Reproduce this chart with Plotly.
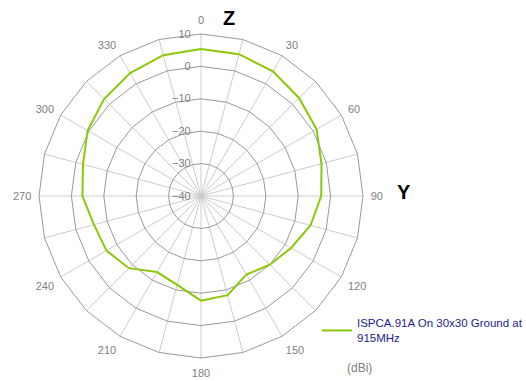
import plotly.graph_objects as go

# Radiation pattern, Z-Y plane, gain in dBi every 15 degrees
angles = [0, 15, 30, 45, 60, 75, 90, 105, 120, 135, 150, 165,
          180, 195, 210, 225, 240, 255, 270, 285, 300, 315, 330, 345]
gain_dbi = [5.4, 5.3, 4.4, 2.8, 1.2, -1.5, -2.9, -5.0, -7.9, -10.0, -12.0, -8.3,
            -7.7, -11.6, -12.9, -8.5, -6.3, -5.8, -3.4, -2.3, 0.4, 2.3, 3.8, 5.0]
series_name = "ISPCA.91A On 30x30 Ground at<br>915MHz"
radial_ticks = [-40, -30, -20, -10, 0, 10]

categories = [str(a) for a in angles]
tick_text = [str(a) if a % 30 == 0 else "" for a in angles]

# close the loop
theta = categories + [categories[0]]
r = gain_dbi + [gain_dbi[0]]

W, H = 526, 381
cx, cy, rad = 201, 196, 162

fig = go.Figure()
fig.add_trace(go.Scatterpolar(
    r=r, theta=theta, mode="lines", name=series_name,
    line=dict(color="#8cc80a", width=2),
))

font_family = "Arial, Liberation Sans, sans-serif"
fig.update_layout(
    width=W, height=H,
    margin=dict(l=0, r=0, t=0, b=0, autoexpand=False),
    paper_bgcolor="white",
    font=dict(family=font_family, size=11, color="#808080"),
    polar=dict(
        domain=dict(x=[(cx - rad) / W, (cx + rad) / W],
                    y=[1 - (cy + rad) / H, 1 - (cy - rad) / H]),
        gridshape="linear",
        bgcolor="white",
        angularaxis=dict(
            type="category", categoryarray=categories,
            rotation=90, direction="clockwise",
            tickmode="array", tickvals=categories, ticktext=tick_text,
            ticks="outside", ticklen=5, tickcolor="rgba(0,0,0,0)",
            showline=True, linecolor="#999999", linewidth=1,
            gridcolor="#cccccc", gridwidth=1,
            tickfont=dict(size=11, color="#808080"),
        ),
        radialaxis=dict(
            range=[-40, 10], tickvals=radial_ticks, angle=90, tickangle=90,
            side="counterclockwise",
            ticks="outside", ticklen=6, tickcolor="rgba(0,0,0,0)",
            showline=False, gridcolor="#999999", gridwidth=1,
            tickfont=dict(size=11, color="#808080"),
        ),
    ),
    showlegend=True,
    legend=dict(x=317 / W, y=1 - 309 / H, xanchor="left", yanchor="top",
                font=dict(size=11.5, color="#1c1c8c", family=font_family),
                itemwidth=30, bgcolor="rgba(0,0,0,0)"),
    annotations=[
        dict(text="<b>Z</b>", x=229 / W, y=1 - 18 / H, xref="paper", yref="paper",
             xanchor="center", yanchor="middle",
             showarrow=False, font=dict(size=20, color="black")),
        dict(text="<b>Y</b>", x=404 / W, y=1 - 192 / H, xref="paper", yref="paper",
             xanchor="center", yanchor="middle",
             showarrow=False, font=dict(size=20, color="black")),
        dict(text="(dBi)", x=359 / W, y=1 - 368 / H, xref="paper", yref="paper",
             xanchor="center", yanchor="middle",
             showarrow=False, font=dict(size=12, color="#808080")),
    ],
)

fig.write_html("out.html")
